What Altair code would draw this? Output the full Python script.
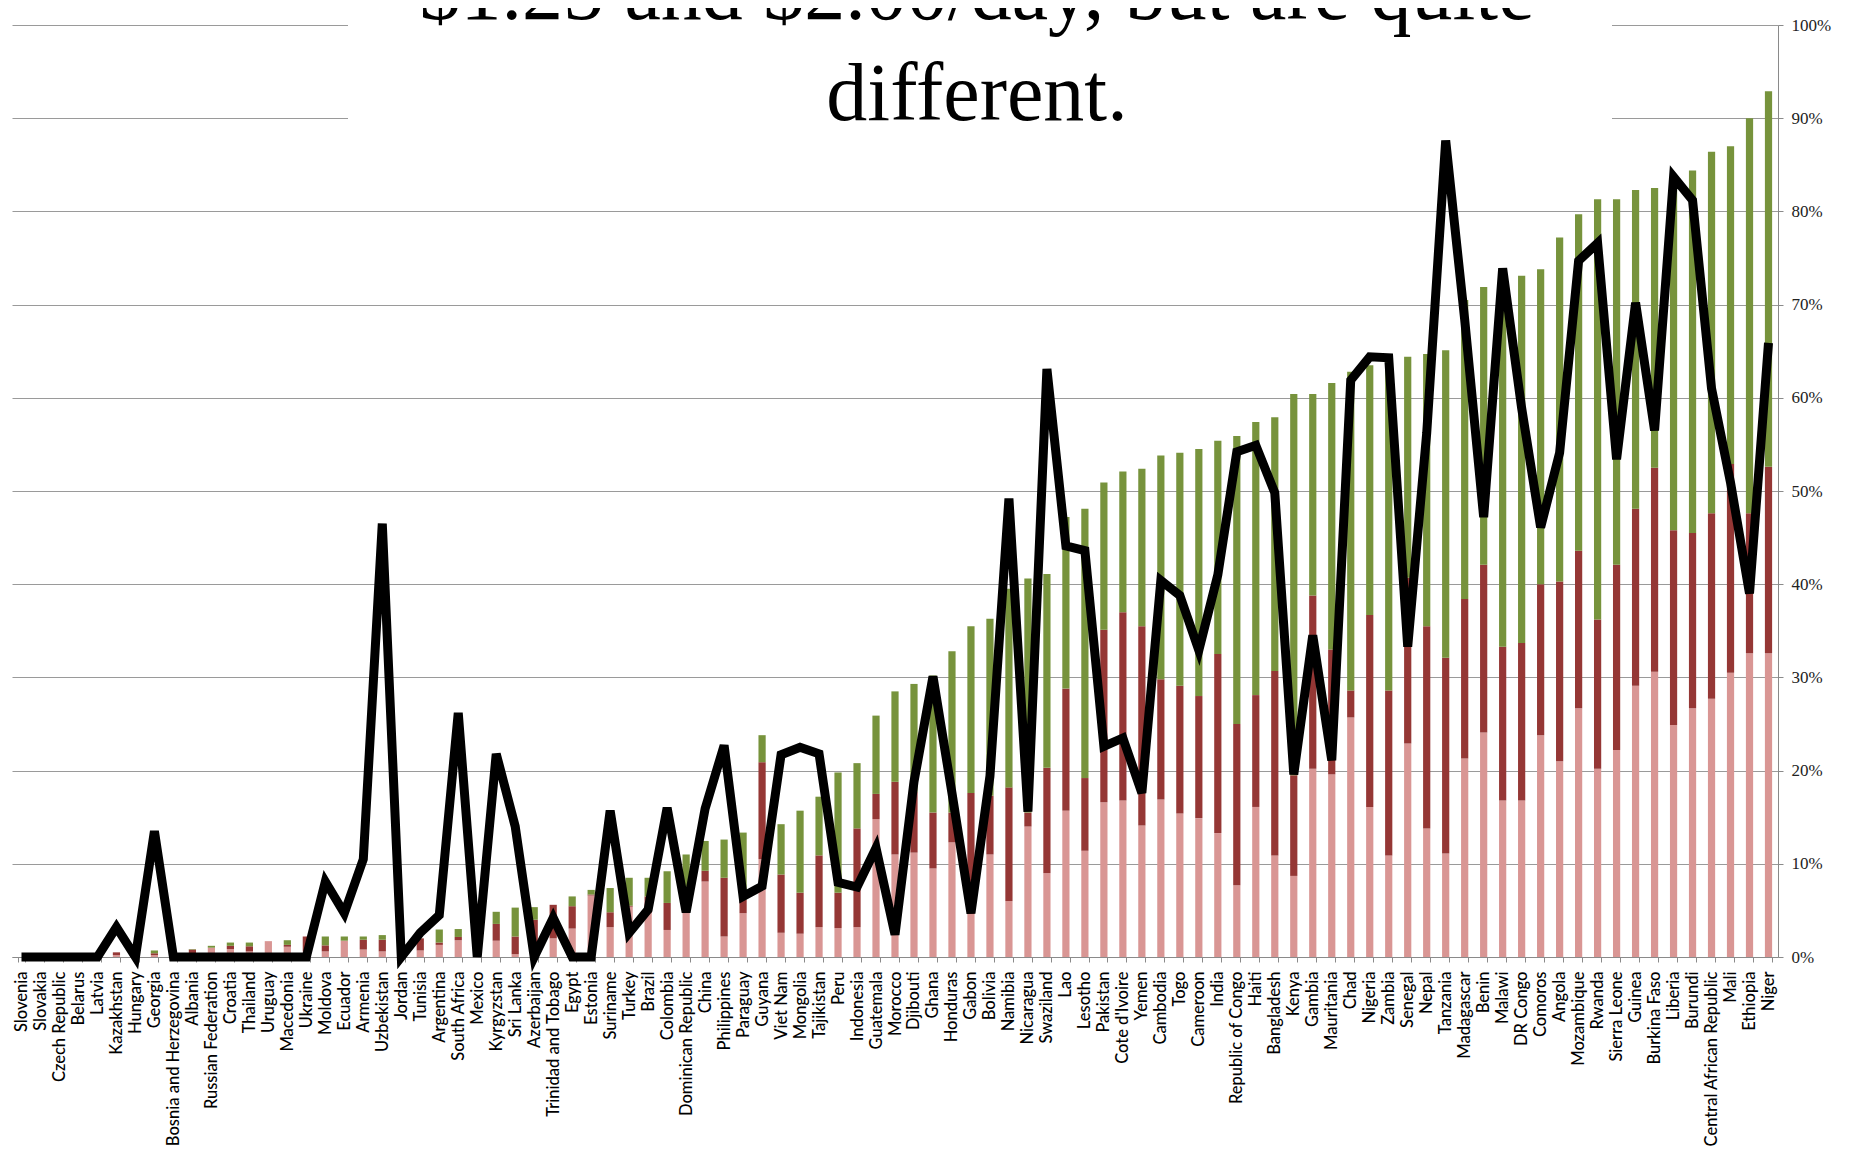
import altair as alt
import pandas as pd

countries = ["Slovenia", "Slovakia", "Czech Republic", "Belarus", "Latvia", "Kazakhstan", "Hungary", "Georgia",
             "Bosnia and Herzegovina", "Albania", "Russian Federation", "Croatia", "Thailand", "Uruguay", "Macedonia",
             "Ukraine", "Moldova", "Ecuador", "Armenia", "Uzbekistan", "Jordan", "Tunisia", "Argentina", "South Africa",
             "Mexico", "Kyrgyzstan", "Sri Lanka", "Azerbaijan", "Trinidad and Tobago", "Egypt", "Estonia", "Suriname",
             "Turkey", "Brazil", "Colombia", "Dominican Republic", "China", "Philippines", "Paraguay", "Guyana",
             "Viet Nam", "Mongolia", "Tajikistan", "Peru", "Indonesia", "Guatemala", "Morocco", "Djibouti", "Ghana",
             "Honduras", "Gabon", "Bolivia", "Namibia", "Nicaragua", "Swaziland", "Lao", "Lesotho", "Pakistan",
             "Cote d'Ivoire", "Yemen", "Cambodia", "Togo", "Cameroon", "India", "Republic of Congo", "Haiti",
             "Bangladesh", "Kenya", "Gambia", "Mauritania", "Chad", "Nigeria", "Zambia", "Senegal", "Nepal",
             "Tanzania", "Madagascar", "Benin", "Malawi", "DR Congo", "Comoros", "Angola", "Mozambique", "Rwanda",
             "Sierra Leone", "Guinea", "Burkina Faso", "Liberia", "Burundi", "Central African Republic", "Mali",
             "Ethiopia", "Niger"]

# bottom segment (light red)
seg_low = [0, 0, 0, 0, 0, 0.2, 0, 0.2, 0, 0.2, 1.0, 0.85, 0.6, 1.7, 1.1, 0.6, 0.6, 1.75, 0.8, 0.6,
           0.3, 0.7, 1.3, 1.8, 0.3, 1.75, 0.3, 1.5, 2.0, 3.05, 6.6, 3.2, 5.4, 4.7, 2.9, 4.7, 8.1, 2.2, 4.7, 10.5,
           2.6, 2.5, 3.2, 3.1, 3.2, 14.8, 11.0, 11.2, 9.5, 12.3, 4.6, 11.0, 6.0, 14.0, 9.0, 15.7, 11.4, 16.6,
           16.8, 14.1, 16.9, 15.4, 14.9, 13.3, 7.7, 16.1, 10.9, 8.7, 20.2, 19.6, 25.7, 16.1, 10.9, 22.9, 13.8,
           11.1, 21.3, 24.1, 16.8, 16.8, 23.8, 21.0, 26.7, 20.2, 22.2, 29.1, 30.6, 24.9, 26.7, 27.7, 30.5,
           32.6, 32.6]
# middle segment (dark red)
seg_mid = [0, 0, 0, 0, 0, 0.3, 0, 0.2, 0, 0.6, 0, 0.35, 0.55, 0, 0.2, 1.6, 0.65, 0, 1.05, 1.25,
           0.2, 1.3, 0.25, 0.35, 0.2, 1.8, 1.9, 2.5, 3.6, 2.4, 0.1, 1.6, 0.1, 1.8, 2.9, 1.5, 1.15, 6.3, 1.45, 10.4,
           6.25, 4.4, 7.7, 3.8, 10.6, 2.7, 7.8, 6.5, 6.0, 3.2, 13.0, 6.3, 12.2, 1.5, 11.3, 13.1, 7.8, 18.5,
           20.2, 21.4, 12.9, 13.7, 13.1, 19.2, 17.3, 12.0, 19.8, 10.8, 18.6, 13.4, 2.9, 20.6, 17.7, 17.8, 21.7,
           21.0, 17.1, 18.0, 16.5, 16.9, 16.2, 19.3, 16.9, 16.0, 19.9, 19.0, 21.9, 20.9, 18.8, 19.9, 22.4,
           15.0, 20.0]
# top segment (green)
seg_high = [0, 0, 0, 0, 0, 0, 0, 0.3, 0, 0.05, 0.2, 0.35, 0.4, 0, 0.5, 0, 0.95, 0.45, 0.35, 0.5,
            0.1, 0, 1.4, 0.85, 0.2, 1.3, 3.1, 1.35, 0, 1.05, 0.5, 2.6, 3.0, 2.0, 3.4, 4.8, 3.2, 4.1, 7.2, 2.9,
            5.4, 8.8, 6.3, 12.9, 7.0, 8.4, 9.7, 11.6, 14.7, 17.3, 17.9, 19.0, 21.3, 25.1, 20.8, 18.4, 28.9, 15.8,
            15.1, 16.9, 24.0, 25.0, 26.5, 22.9, 30.9, 29.3, 27.2, 40.9, 21.6, 28.6, 34.2, 26.8, 35.7, 23.7, 29.2,
            33.0, 32.1, 29.8, 40.2, 39.4, 33.8, 36.9, 36.1, 45.1, 39.2, 34.2, 30.0, 37.9, 38.9, 38.8, 34.1,
            42.4, 40.3]
# black line
line_vals = [0, 0, 0, 0, 0, 3.2, 0, 13.5, 0, 0, 0, 0, 0, 0, 0, 0, 8.1, 4.7, 10.5, 46.5,
             0, 2.6, 4.5, 26.2, 0, 21.8, 14.0, 0, 4.2, 0, 0, 15.7, 2.6, 5.1, 16.0, 4.8, 15.9, 22.7, 6.5, 7.6,
             21.7, 22.5, 21.8, 8.0, 7.5, 11.7, 2.4, 18.8, 30.1, 17.6, 4.7, 19.4, 49.2, 15.6, 63.1, 44.1, 43.6,
             22.6, 23.5, 17.6, 40.4, 38.8, 32.9, 41.0, 54.2, 54.9, 49.8, 19.6, 34.5, 21.1, 61.9, 64.4, 64.3,
             33.3, 56.2, 87.6, 68.4, 47.2, 73.9, 58.9, 46.1, 54.1, 74.7, 76.6, 53.4, 70.2, 56.5, 83.7, 81.2,
             61.0, 50.9, 39.0, 65.9]

y_ticks = [0, 10, 20, 30, 40, 50, 60, 70, 80, 90, 100]
title_lines = ["$1.25 and $2.00/day, but are quite", "different."]
seg_names = ["low", "mid", "high"]
seg_colors = ["#D99694", "#953735", "#77933C"]

df = pd.DataFrame({"country": countries, "low": seg_low, "mid": seg_mid,
                   "high": seg_high, "line": line_vals})

W, H = 1766, 932

xscale = alt.Scale(domain=countries, paddingInner=0.62, paddingOuter=0.31)
yscale = alt.Scale(domain=[0, 100], nice=False)

x_axis = alt.Axis(title=None, orient="bottom", labelAngle=-90, labelFont="Lato", labelFontSize=16.5,
                  labelFontWeight=500, labelColor="#000000", labelPadding=9, labelLimit=0,
                  tickBand="extent", tickSize=5,
                  tickColor="#8a8a8a", domainColor="#8a8a8a", labelOverlap=False, grid=False)
y_axis = alt.Axis(title=None, orient="right", values=y_ticks, labelExpr="datum.value + '%'",
                  labelFont="Liberation Serif", labelFontSize=17, labelColor="#222222",
                  labelPadding=8, tickSize=5, tickColor="#8a8a8a", domainColor="#8a8a8a",
                  grid=True, gridColor="#9a9a9a", gridWidth=1)

bars = alt.Chart(df).transform_fold(
    seg_names, as_=["seg", "val"]
).transform_calculate(
    ord="indexof(['low','mid','high'], datum.seg)"
).mark_bar().encode(
    x=alt.X("country:N", scale=xscale, axis=x_axis, sort=countries),
    y=alt.Y("val:Q", stack="zero", scale=yscale, axis=y_axis),
    color=alt.Color("seg:N", scale=alt.Scale(domain=seg_names, range=seg_colors), legend=None),
    order=alt.Order("ord:Q"),
)

line = alt.Chart(df).mark_line(color="black", strokeWidth=9, strokeJoin="miter").encode(
    x=alt.X("country:N", scale=xscale, sort=countries),
    y=alt.Y("line:Q", scale=yscale),
)

box_df = pd.DataFrame({"k": [0]})
box = alt.Chart(box_df).mark_rect(color="white").encode(
    x=alt.value(336), x2=alt.value(1600), y=alt.value(-30), y2=alt.value(97)
)
title = alt.Chart(box_df).mark_text(
    text=title_lines, font="Liberation Serif", fontSize=82, lineHeight=101,
    align="center", baseline="alphabetic", color="#000000"
).encode(x=alt.value(965), y=alt.value(-6))

chart = alt.layer(bars, line, box, title).properties(
    width=W, height=H,
    autosize=alt.AutoSizeParams(type="none"),
    padding={"left": 4, "top": 17, "right": 76, "bottom": 192},
    background="white",
).configure_view(stroke=None)

chart.save("out.html", embed_options={"renderer": "svg", "actions": False})
